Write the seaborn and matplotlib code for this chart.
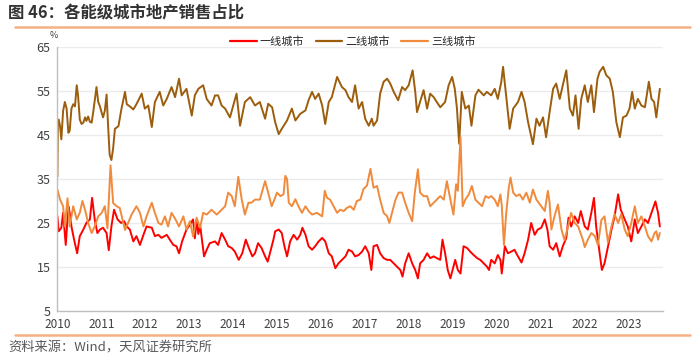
import pandas as pd
import seaborn as sns
import matplotlib.pyplot as plt
from matplotlib.lines import Line2D

# 数据（年份小数，数值为 %）
t_tier1 = [2010.00, 2010.03, 2010.09, 2010.13, 2010.19, 2010.25, 2010.28, 2010.32, 2010.38, 2010.45,
           2010.51, 2010.59, 2010.66, 2010.74, 2010.79, 2010.85, 2010.91, 2010.97, 2011.04, 2011.12,
           2011.17, 2011.23, 2011.29, 2011.37, 2011.45, 2011.52, 2011.58, 2011.65, 2011.73, 2011.80,
           2011.88, 2011.96, 2012.03, 2012.15, 2012.22, 2012.30, 2012.37, 2012.49, 2012.56, 2012.64,
           2012.71, 2012.77, 2012.84, 2012.94, 2013.02, 2013.09, 2013.13, 2013.17, 2013.21, 2013.25,
           2013.34, 2013.40, 2013.47, 2013.59, 2013.66, 2013.74, 2013.82, 2013.89, 2013.97, 2014.04,
           2014.13, 2014.21, 2014.29, 2014.36, 2014.44, 2014.50, 2014.57, 2014.65, 2014.73, 2014.79,
           2014.86, 2014.92, 2014.96, 2015.04, 2015.11, 2015.17, 2015.23, 2015.30, 2015.38, 2015.46,
           2015.53, 2015.58, 2015.65, 2015.72, 2015.80, 2015.87, 2015.95, 2016.03, 2016.10, 2016.18,
           2016.25, 2016.33, 2016.40, 2016.48, 2016.56, 2016.63, 2016.71, 2016.78, 2016.86, 2016.94,
           2017.01, 2017.09, 2017.15, 2017.20, 2017.28, 2017.35, 2017.43, 2017.51, 2017.58, 2017.66,
           2017.73, 2017.81, 2017.86, 2017.92, 2018.00, 2018.08, 2018.15, 2018.21, 2018.26, 2018.34,
           2018.42, 2018.49, 2018.57, 2018.64, 2018.72, 2018.77, 2018.83, 2018.89, 2018.95, 2019.02,
           2019.06, 2019.12, 2019.18, 2019.25, 2019.33, 2019.40, 2019.48, 2019.56, 2019.63, 2019.71,
           2019.78, 2019.83, 2019.88, 2019.96, 2020.03, 2020.09, 2020.12, 2020.19, 2020.26, 2020.34,
           2020.41, 2020.49, 2020.57, 2020.64, 2020.72, 2020.79, 2020.87, 2020.94, 2021.02, 2021.10,
           2021.16, 2021.21, 2021.29, 2021.36, 2021.44, 2021.51, 2021.59, 2021.64, 2021.70, 2021.78,
           2021.86, 2021.92, 2022.01, 2022.08, 2022.16, 2022.22, 2022.27, 2022.35, 2022.40, 2022.46,
           2022.54, 2022.62, 2022.69, 2022.77, 2022.83, 2022.92, 2022.99, 2023.07, 2023.15, 2023.22,
           2023.30, 2023.38, 2023.45, 2023.53, 2023.62, 2023.68, 2023.72]
v_tier1 = [26.5, 23.1, 23.9, 27.3, 20.0, 28.8, 27.3, 24.2, 21.2, 18.1,
           22.0, 23.5, 25.0, 25.8, 30.7, 25.8, 22.7, 23.5, 23.9, 22.7,
           18.8, 24.2, 28.0, 25.8, 25.0, 25.4, 24.2, 23.5, 20.8, 22.0,
           20.0, 22.3, 24.2, 23.9, 22.0, 22.3, 21.6, 22.3, 21.2, 20.0,
           19.7, 18.1, 20.8, 23.5, 24.6, 25.8, 21.5, 25.5, 22.5, 24.5,
           17.4, 18.9, 20.4, 20.8, 20.0, 22.7, 21.2, 19.7, 19.3, 18.5,
           16.6, 18.1, 21.2, 19.3, 17.4, 18.1, 20.4, 19.3, 17.4, 16.2,
           18.9, 21.2, 23.1, 23.5, 22.7, 19.7, 17.4, 20.8, 22.3, 21.2,
           22.3, 23.9, 22.3, 19.7, 18.9, 19.7, 20.8, 21.6, 20.8, 18.1,
           17.4, 14.7, 15.8, 16.6, 17.4, 18.9, 18.5, 17.4, 17.7, 18.5,
           19.7, 18.1, 14.3, 19.7, 20.0, 18.1, 17.0, 16.6, 16.6, 15.8,
           15.1, 14.3, 12.8, 15.8, 18.1, 15.8, 14.3, 12.4, 15.8, 16.6,
           18.1, 17.0, 17.4, 17.0, 16.6, 21.2, 18.1, 14.3, 12.4, 15.1,
           16.6, 14.3, 13.5, 19.7, 19.3, 18.5, 17.7, 17.0, 16.6, 15.8,
           15.1, 14.3, 16.6, 15.8, 17.7, 16.6, 13.5, 19.7, 18.1, 18.5,
           18.9, 17.4, 16.0, 18.1, 21.2, 25.0, 22.3, 23.5, 23.9, 25.8,
           23.5, 19.7, 18.9, 20.4, 17.4, 19.7, 21.6, 26.2, 24.2, 26.5,
           25.0, 27.7, 24.2, 23.5, 27.3, 30.7, 24.2, 18.1, 14.3, 15.8,
           19.7, 23.5, 26.5, 31.5, 28.0, 25.8, 24.2, 20.8, 25.8, 22.7,
           24.2, 25.8, 25.0, 27.3, 29.9, 27.3, 24.2]

t_tier2 = [2010.00, 2010.01, 2010.03, 2010.06, 2010.09, 2010.13, 2010.17, 2010.21, 2010.25, 2010.28,
           2010.32, 2010.36, 2010.40, 2010.44, 2010.47, 2010.51, 2010.55, 2010.59, 2010.63, 2010.66,
           2010.70, 2010.74, 2010.78, 2010.82, 2010.89, 2010.93, 2010.97, 2011.01, 2011.04, 2011.08,
           2011.12, 2011.15, 2011.19, 2011.23, 2011.27, 2011.31, 2011.39, 2011.46, 2011.54, 2011.58,
           2011.65, 2011.73, 2011.80, 2011.92, 2011.99, 2012.07, 2012.15, 2012.22, 2012.33, 2012.41,
           2012.49, 2012.60, 2012.68, 2012.77, 2012.83, 2012.94, 2013.06, 2013.13, 2013.21, 2013.32,
           2013.40, 2013.51, 2013.59, 2013.66, 2013.74, 2013.82, 2013.93, 2014.08, 2014.16, 2014.27,
           2014.39, 2014.50, 2014.61, 2014.73, 2014.80, 2014.89, 2014.96, 2015.04, 2015.11, 2015.23,
           2015.34, 2015.42, 2015.53, 2015.65, 2015.72, 2015.80, 2015.87, 2015.95, 2016.03, 2016.10,
           2016.18, 2016.25, 2016.37, 2016.48, 2016.56, 2016.63, 2016.71, 2016.78, 2016.86, 2016.94,
           2017.01, 2017.09, 2017.16, 2017.20, 2017.28, 2017.35, 2017.43, 2017.51, 2017.58, 2017.66,
           2017.76, 2017.85, 2017.92, 2018.00, 2018.09, 2018.15, 2018.19, 2018.26, 2018.34, 2018.42,
           2018.49, 2018.57, 2018.64, 2018.72, 2018.83, 2018.91, 2018.99, 2019.05, 2019.10, 2019.15,
           2019.21, 2019.29, 2019.37, 2019.43, 2019.52, 2019.59, 2019.71, 2019.78, 2019.88, 2019.96,
           2020.03, 2020.11, 2020.15, 2020.22, 2020.30, 2020.38, 2020.49, 2020.57, 2020.64, 2020.72,
           2020.83, 2020.91, 2020.98, 2021.06, 2021.13, 2021.21, 2021.29, 2021.36, 2021.44, 2021.51,
           2021.59, 2021.67, 2021.74, 2021.80, 2021.87, 2021.93, 2022.01, 2022.08, 2022.16, 2022.22,
           2022.30, 2022.35, 2022.43, 2022.50, 2022.58, 2022.65, 2022.73, 2022.81, 2022.88, 2022.96,
           2023.03, 2023.09, 2023.15, 2023.22, 2023.30, 2023.38, 2023.47, 2023.53, 2023.59, 2023.64,
           2023.72]
v_tier2 = [35.5, 47.0, 48.5, 47.0, 44.0, 50.5, 52.5, 51.0, 45.5, 46.0,
           51.0, 52.0, 51.5, 56.3, 54.0, 48.5, 47.5, 47.8, 49.0, 48.2,
           49.2, 48.0, 47.8, 50.5, 55.9, 52.5, 51.5, 50.0, 49.0, 50.5,
           54.2, 48.0, 40.5, 39.3, 42.0, 46.4, 47.0, 51.0, 54.8, 52.0,
           51.5, 50.8, 52.0, 54.4, 51.0, 51.7, 46.8, 52.5, 54.8, 51.7,
           53.2, 55.9, 53.6, 57.8, 54.0, 55.5, 49.4, 54.0, 55.5, 56.3,
           53.2, 51.7, 54.0, 54.0, 51.7, 51.0, 49.0, 54.4, 47.1, 52.5,
           53.6, 51.7, 52.5, 48.7, 52.1, 51.3, 47.9, 45.2, 46.4, 48.3,
           51.0, 48.3, 49.8, 50.6, 52.9, 54.8, 53.2, 54.4, 51.7, 47.5,
           52.5, 53.6, 58.2, 55.9, 55.2, 53.6, 52.5, 56.3, 51.0, 52.5,
           48.7, 47.1, 48.7, 47.1, 48.3, 54.4, 57.1, 57.8, 56.7, 54.8,
           52.9, 55.9, 55.2, 56.3, 59.7, 54.8, 50.2, 52.5, 55.2, 51.0,
           54.4, 53.6, 52.5, 51.3, 52.5, 56.3, 58.2, 55.5, 51.0, 43.0,
           54.8, 51.0, 51.7, 47.1, 54.0, 55.3, 54.0, 54.8, 54.0, 55.5,
           53.2, 57.1, 60.5, 54.0, 46.4, 51.0, 52.5, 54.8, 52.5, 47.9,
           42.9, 48.7, 47.1, 49.0, 44.5, 50.2, 55.5, 56.7, 53.2, 56.3,
           59.7, 51.0, 49.4, 54.0, 46.4, 53.2, 56.3, 52.5, 56.3, 50.2,
           57.8, 59.4, 60.5, 58.6, 57.8, 54.8, 47.9, 44.5, 49.0, 49.4,
           51.0, 54.8, 51.0, 53.2, 51.7, 51.3, 57.1, 53.2, 52.5, 49.0,
           55.5]

t_tier3 = [2010.00, 2010.06, 2010.13, 2010.17, 2010.23, 2010.28, 2010.36, 2010.44, 2010.51, 2010.57,
           2010.63, 2010.70, 2010.78, 2010.85, 2010.93, 2011.01, 2011.08, 2011.14, 2011.21, 2011.27,
           2011.35, 2011.42, 2011.54, 2011.61, 2011.69, 2011.80, 2011.88, 2011.96, 2012.03, 2012.15,
           2012.22, 2012.30, 2012.37, 2012.45, 2012.52, 2012.60, 2012.69, 2012.77, 2012.87, 2012.94,
           2013.02, 2013.09, 2013.17, 2013.25, 2013.32, 2013.40, 2013.51, 2013.63, 2013.74, 2013.82,
           2013.89, 2013.97, 2014.04, 2014.12, 2014.20, 2014.27, 2014.35, 2014.42, 2014.50, 2014.61,
           2014.73, 2014.80, 2014.88, 2014.95, 2015.00, 2015.08, 2015.15, 2015.19, 2015.23, 2015.27,
           2015.34, 2015.42, 2015.49, 2015.57, 2015.65, 2015.72, 2015.80, 2015.91, 2016.03, 2016.09,
           2016.14, 2016.21, 2016.29, 2016.37, 2016.44, 2016.52, 2016.59, 2016.67, 2016.75, 2016.82,
           2016.90, 2016.97, 2017.05, 2017.13, 2017.20, 2017.28, 2017.35, 2017.43, 2017.51, 2017.56,
           2017.62, 2017.70, 2017.77, 2017.85, 2017.92, 2018.00, 2018.08, 2018.14, 2018.21, 2018.26,
           2018.34, 2018.42, 2018.49, 2018.57, 2018.64, 2018.72, 2018.80, 2018.87, 2018.95, 2019.02,
           2019.08, 2019.12, 2019.18, 2019.23, 2019.29, 2019.37, 2019.44, 2019.52, 2019.59, 2019.67,
           2019.75, 2019.82, 2019.88, 2019.96, 2020.03, 2020.09, 2020.12, 2020.17, 2020.22, 2020.28,
           2020.32, 2020.38, 2020.45, 2020.53, 2020.60, 2020.68, 2020.76, 2020.83, 2020.91, 2021.02,
           2021.10, 2021.17, 2021.21, 2021.25, 2021.32, 2021.40, 2021.48, 2021.55, 2021.63, 2021.70,
           2021.78, 2021.86, 2021.97, 2022.01, 2022.08, 2022.16, 2022.24, 2022.31, 2022.39, 2022.46,
           2022.54, 2022.62, 2022.69, 2022.77, 2022.84, 2022.92, 2022.99, 2023.07, 2023.15, 2023.22,
           2023.30, 2023.38, 2023.45, 2023.53, 2023.60, 2023.64, 2023.68, 2023.72]
v_tier3 = [32.6, 30.3, 28.8, 24.2, 30.6, 24.2, 28.8, 25.8, 27.3, 30.0,
           28.0, 25.0, 22.7, 24.2, 26.5, 27.3, 28.8, 23.8, 38.1, 29.5,
           28.8, 28.4, 23.4, 25.0, 26.9, 28.8, 27.3, 24.2, 26.5, 29.6,
           27.3, 25.0, 24.6, 26.5, 24.2, 27.3, 25.8, 24.2, 26.5, 23.5,
           25.4, 21.9, 26.2, 23.9, 27.3, 26.9, 28.0, 26.9, 28.0, 28.8,
           31.9, 31.1, 28.8, 35.5, 30.2, 26.9, 29.6, 29.6, 30.3, 30.3,
           34.5, 31.9, 28.8, 30.5, 31.9, 31.1, 31.5, 35.7, 35.0, 29.6,
           28.8, 30.4, 28.8, 27.3, 28.8, 27.7, 26.9, 27.3, 26.5, 32.3,
           30.7, 30.3, 28.8, 27.3, 28.0, 27.7, 28.4, 28.8, 28.0, 30.0,
           30.3, 32.7, 33.5, 37.3, 33.0, 33.4, 30.3, 27.3, 26.5, 25.0,
           27.3, 30.3, 31.9, 31.9, 29.6, 27.3, 25.4, 31.9, 37.2, 31.9,
           31.1, 31.1, 28.8, 29.6, 30.3, 31.1, 30.3, 34.5, 30.3, 26.9,
           33.8, 32.3, 44.5, 28.8, 30.3, 31.5, 33.4, 30.3, 29.6, 28.8,
           31.1, 30.7, 31.1, 30.3, 28.8, 31.5, 29.0, 20.0, 27.0, 33.0,
           35.3, 31.9, 31.1, 31.5, 30.3, 31.9, 29.6, 32.6, 30.3, 28.8,
           27.7, 32.3, 29.6, 23.5, 26.5, 29.2, 23.5, 21.1, 24.2, 27.3,
           25.0, 24.2, 21.1, 19.5, 21.2, 22.7, 22.0, 20.0, 25.7, 26.5,
           20.6, 24.2, 27.0, 25.0, 27.0, 23.5, 22.0, 25.0, 28.8, 25.0,
           26.5, 24.2, 22.0, 20.8, 22.7, 23.1, 21.2, 22.7]

series_names = ['一线城市', '二线城市', '三线城市']
series_colors = ['#FF0000', '#9C5D0C', '#F08A3C']
year_ticks = list(range(2010, 2024))
y_ticks = [5, 15, 25, 35, 45, 55, 65]

df = pd.concat([
    pd.DataFrame({'t': t_tier1, 'v': v_tier1, 'city': series_names[0]}),
    pd.DataFrame({'t': t_tier2, 'v': v_tier2, 'city': series_names[1]}),
    pd.DataFrame({'t': t_tier3, 'v': v_tier3, 'city': series_names[2]}),
], ignore_index=True)

sns.set_theme(style='white')
plt.rcParams['font.family'] = ['Noto Sans CJK SC', 'DejaVu Sans']
plt.rcParams['axes.unicode_minus'] = False

fig = plt.figure(figsize=(7, 3.59), dpi=100)
ax = fig.add_axes([0.082, 0.134, 0.865, 0.735])

sns.lineplot(data=df, x='t', y='v', hue='city', hue_order=series_names,
             palette=series_colors, estimator=None, sort=False,
             linewidth=1.4, legend=False, ax=ax)

ax.set_xlim(2010, 2023.79)
ax.set_ylim(5, 65)
ax.set_xticks(year_ticks)
ax.set_xticklabels([str(y) for y in year_ticks], fontsize=8.5, color='#404040')
ax.set_yticks(y_ticks)
ax.set_yticklabels([str(y) for y in y_ticks], fontsize=9, color='#404040')
ax.set_xlabel('')
ax.set_ylabel('')
ax.yaxis.grid(True, color='#EBEBEB', linewidth=1)
ax.xaxis.grid(False)
ax.tick_params(axis='both', length=3, width=0.8, color='#BFBFBF', pad=2)
for s in ['top', 'right']:
    ax.spines[s].set_visible(False)
for s in ['left', 'bottom']:
    ax.spines[s].set_color('#BFBFBF')
    ax.spines[s].set_linewidth(1)

# 单位标注
ax.text(-0.013, 1.028, '%', transform=ax.transAxes, fontsize=6.5, color='#404040',
        ha='left', va='bottom')

handles = [Line2D([0], [0], color=c, lw=1.6) for c in series_colors]
fig.legend(handles, series_names, loc='center', bbox_to_anchor=(0.504, 0.883),
           ncol=3, frameon=False, fontsize=8, handlelength=2.4, columnspacing=1.0,
           handletextpad=0.3, borderpad=0.2)

fig.text(0.012, 0.962, '图 46：各能级城市地产销售占比', fontsize=11.8, fontweight='bold',
         color='#333333', ha='left', va='center')
fig.add_artist(Line2D([0.021, 0.986], [0.925, 0.925], color='#F4B183', lw=1.8))
fig.add_artist(Line2D([0.021, 0.986], [0.067, 0.067], color='#F4B183', lw=1.8))
fig.text(0.012, 0.031, '资料来源：Wind，天风证券研究所', fontsize=9.5, color='#595959',
         ha='left', va='center')

fig.savefig('out.png', dpi=100)
